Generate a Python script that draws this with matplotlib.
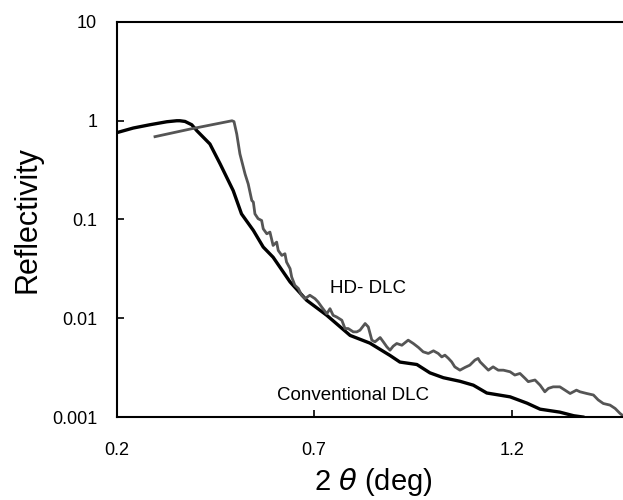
import numpy as np
import matplotlib
matplotlib.use("Agg")
import matplotlib.pyplot as plt
from matplotlib.ticker import FixedLocator, NullLocator

plt.rcParams['font.family'] = ['Liberation Sans', 'DejaVu Sans']

# conventional DLC (black)
conv_x = [0.200, 0.242, 0.284, 0.327, 0.352, 0.360, 0.373, 0.390, 0.403, 0.436,
          0.462, 0.495, 0.516, 0.546, 0.571, 0.596, 0.639, 0.681, 0.732, 0.791,
          0.841, 0.892, 0.917, 0.960, 0.993, 1.027, 1.069, 1.103, 1.137, 1.196,
          1.239, 1.272, 1.322, 1.357, 1.380]
conv_y = [0.757, 0.844, 0.911, 0.977, 1.0, 1.0, 0.984, 0.911, 0.792, 0.582,
          0.365, 0.196, 0.114, 0.0775, 0.0526, 0.0415, 0.0233, 0.0152, 0.0107, 0.0067,
          0.0056, 0.0042, 0.0036, 0.0034, 0.0028, 0.0025, 0.0023, 0.0021, 0.00175, 0.0016,
          0.00138, 0.0012, 0.00112, 0.00103, 0.0010]

# HD-DLC (grey)
hd_x = [0.297, 0.386, 0.492, 0.497, 0.504, 0.512, 0.525, 0.533, 0.542, 0.546,
        0.550, 0.558, 0.567, 0.571, 0.580, 0.588, 0.592, 0.596, 0.605, 0.609,
        0.618, 0.626, 0.630, 0.639, 0.643, 0.651, 0.660, 0.668, 0.677, 0.689,
        0.702, 0.710, 0.719, 0.732, 0.740, 0.748, 0.757, 0.770, 0.778, 0.786,
        0.799, 0.808, 0.816, 0.829, 0.837, 0.846, 0.854, 0.867, 0.875, 0.884,
        0.892, 0.900, 0.909, 0.922, 0.938, 0.951, 0.964, 0.976, 0.989, 1.002,
        1.014, 1.023, 1.031, 1.040, 1.048, 1.056, 1.069, 1.082, 1.094, 1.107,
        1.115, 1.120, 1.141, 1.153, 1.166, 1.179, 1.196, 1.208, 1.221, 1.234,
        1.242, 1.259, 1.272, 1.284, 1.293, 1.305, 1.322, 1.335, 1.348, 1.364,
        1.373, 1.390, 1.407, 1.419, 1.432, 1.449, 1.462, 1.474, 1.483]
hd_y = [0.69, 0.824, 1.0, 0.98, 0.733, 0.461, 0.289, 0.229, 0.156, 0.150,
        0.114, 0.102, 0.0977, 0.0805, 0.0717, 0.0745, 0.0638, 0.0546, 0.059, 0.0486,
        0.0433, 0.045, 0.0371, 0.0318, 0.0262, 0.0216, 0.020, 0.0171, 0.0158, 0.0171,
        0.0158, 0.0146, 0.013, 0.0111, 0.0125, 0.0107, 0.0103, 0.00955, 0.00787, 0.00787,
        0.00728, 0.00728, 0.00757, 0.00884, 0.00817, 0.0060, 0.00577, 0.00638, 0.00577, 0.00513,
        0.00475, 0.00521, 0.00555, 0.00533, 0.0060, 0.00555, 0.00506, 0.00457, 0.0044, 0.00468,
        0.0044, 0.00406, 0.00423, 0.00392, 0.00362, 0.00322, 0.00298, 0.00318, 0.00335, 0.00377,
        0.00392, 0.00362, 0.00298, 0.00322, 0.00298, 0.00298, 0.00287, 0.00266, 0.00276, 0.00246,
        0.00228, 0.00237, 0.0021, 0.0018, 0.00195, 0.00202, 0.00202, 0.00187, 0.00173, 0.00187,
        0.0018, 0.00173, 0.00167, 0.00149, 0.00137, 0.00132, 0.00122, 0.00109, 0.00102]

x_ticks = [0.2, 0.7, 1.2]
y_ticks = [0.001, 0.01, 0.1, 1, 10]
y_labels = ["0.001", "0.01", "0.1", "1", "10"]

fig = plt.figure(figsize=(6.23, 5.0), dpi=100)
ax = fig.add_axes([0.1873, 0.166, 0.8242, 0.79])

ax.plot(conv_x, conv_y, color="black", lw=2.4, solid_joinstyle="round")
ax.plot(hd_x, hd_y, color="#555555", lw=2.0, solid_joinstyle="round")

ax.set_yscale("log")
ax.set_xlim(0.2, 1.5)
ax.set_ylim(0.001, 10)
ax.xaxis.set_major_locator(FixedLocator(x_ticks))
ax.set_xticklabels(["0.2", "0.7", "1.2"])
ax.yaxis.set_major_locator(FixedLocator(y_ticks))
ax.yaxis.set_minor_locator(NullLocator())
ax.set_yticklabels(y_labels)

ax.tick_params(axis="both", direction="in", length=5, width=1.2, labelsize=13)
ax.tick_params(axis="x", pad=18)
ax.tick_params(axis="y", pad=14)
for s in ax.spines.values():
    s.set_linewidth(1.5)

ax.set_ylabel("Reflectivity", fontsize=22, labelpad=7)
ax.set_xlabel(r"2 $\theta$ (deg)", fontsize=21, labelpad=5)

ax.text(0.740, 0.0201, "HD- DLC", fontsize=13.5, ha="left", va="center")
ax.text(0.606, 0.00167, "Conventional DLC", fontsize=13.5, ha="left", va="center")

fig.savefig("out.png", dpi=100)
